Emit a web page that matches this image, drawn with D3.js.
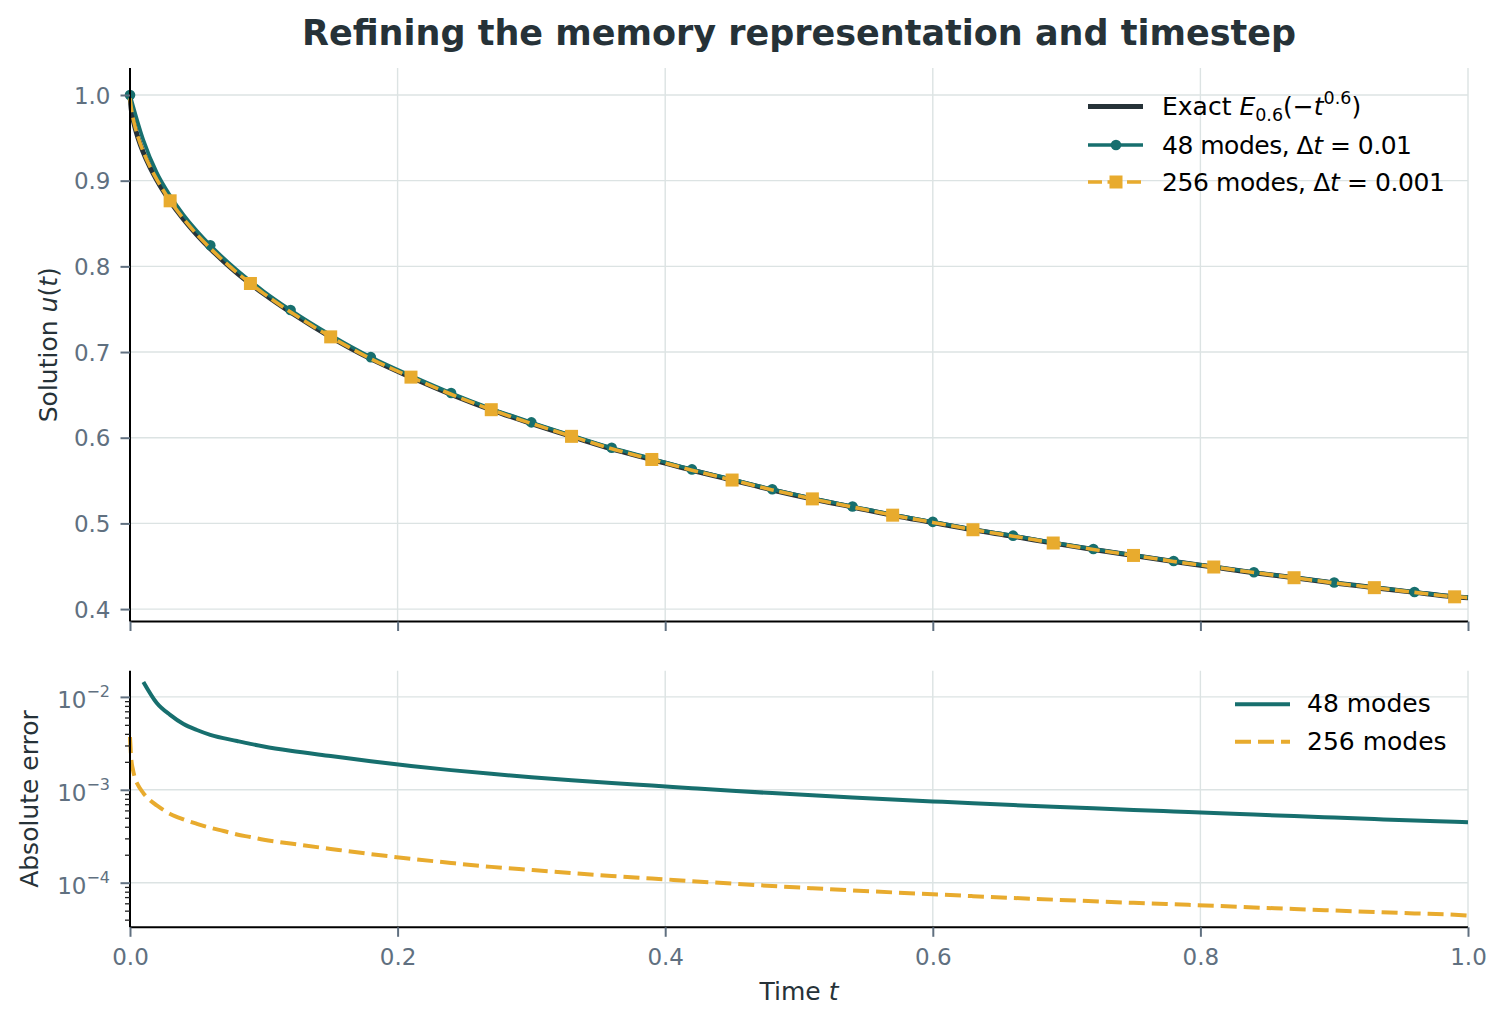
<!DOCTYPE html>
<html><head><meta charset="utf-8">
<script src="https://cdn.jsdelivr.net/npm/d3@7"></script>
<style>
html,body{margin:0;padding:0;background:#fff;}
svg text{font-family:"DejaVu Sans",sans-serif;}
</style></head>
<body><svg id="chart" width="1506" height="1024"></svg>
<script>
// ---------- data ----------
const titleText = "Refining the memory representation and timestep";
const xTicks = [0.0, 0.2, 0.4, 0.6, 0.8, 1.0];
const yTicksTop = [0.4, 0.5, 0.6, 0.7, 0.8, 0.9, 1.0];
const yTicksBottom = [1e-4, 1e-3, 1e-2];

// exact E_0.6(-t^0.6)
const exactT = [0, 0.001, 0.002, 0.004, 0.006, 0.01, 0.015, 0.02, 0.03, 0.04, 0.05, 0.06, 0.07, 0.08, 0.09, 0.10, 0.12, 0.15, 0.18, 0.21, 0.24, 0.27, 0.30, 0.33, 0.36, 0.39, 0.42, 0.45, 0.48, 0.51, 0.54, 0.57, 0.60, 0.63, 0.66, 0.69, 0.72, 0.75, 0.78, 0.81, 0.84, 0.87, 0.90, 0.93, 0.96, 0.99, 1.00];
const exactU = [1.0, 0.9825, 0.9736, 0.9604, 0.9499, 0.9328, 0.9155, 0.9008, 0.8760, 0.8551, 0.8369, 0.8207, 0.8059, 0.7922, 0.7797, 0.7679, 0.7464, 0.7175, 0.6920, 0.6705, 0.6505, 0.6325, 0.6165, 0.6015, 0.5870, 0.5745, 0.5620, 0.5505, 0.5390, 0.5285, 0.5190, 0.5095, 0.5010, 0.4925, 0.4850, 0.4770, 0.4695, 0.4625, 0.4555, 0.4490, 0.4425, 0.4365, 0.4305, 0.4250, 0.4195, 0.4143, 0.4133];

// 48 modes, dt = 0.01
const m48T = [0, 0.01, 0.02, 0.03, 0.04, 0.05, 0.06, 0.08, 0.09, 0.10, 0.12, 0.15, 0.18, 0.21, 0.24, 0.27, 0.30, 0.33, 0.36, 0.39, 0.42, 0.45, 0.48, 0.51, 0.54, 0.57, 0.60, 0.63, 0.66, 0.69, 0.72, 0.75, 0.78, 0.81, 0.84, 0.87, 0.90, 0.93, 0.96, 0.99, 1.00];
const m48U = [1.0, 0.9473, 0.9094, 0.8824, 0.8602, 0.8413, 0.8246, 0.7956, 0.7828, 0.7708, 0.7490, 0.7198, 0.6940, 0.6723, 0.6521, 0.6340, 0.6179, 0.6028, 0.5882, 0.5756, 0.5630, 0.5515, 0.5399, 0.5294, 0.5198, 0.5103, 0.5018, 0.4932, 0.4857, 0.4777, 0.4701, 0.4631, 0.4561, 0.4496, 0.4430, 0.4370, 0.4310, 0.4255, 0.4200, 0.4148, 0.4137];
const m48Err = [null, 0.0145, 0.0086, 0.0064, 0.0051, 0.0044, 0.0039, 0.00335, 0.00312, 0.00293, 0.002636, 0.00231, 0.002028, 0.001808, 0.001628, 0.001484, 0.001365, 0.001267, 0.001183, 0.001111, 0.001041, 0.000977, 0.000921, 0.000871, 0.000826, 0.000786, 0.00075, 0.000716, 0.000685, 0.000657, 0.000631, 0.000607, 0.000585, 0.000564, 0.000542, 0.000521, 0.000502, 0.000484, 0.000467, 0.000452, 0.000447];
const m48MarkerT = [0, 0.06, 0.12, 0.18, 0.24, 0.30, 0.36, 0.42, 0.48, 0.54, 0.60, 0.66, 0.72, 0.78, 0.84, 0.90, 0.96];

// 256 modes, dt = 0.001
const m256T = [0, 0.001, 0.002, 0.004, 0.006, 0.01, 0.015, 0.02, 0.03, 0.04, 0.05, 0.06, 0.07, 0.08, 0.09, 0.10, 0.12, 0.15, 0.18, 0.21, 0.24, 0.27, 0.30, 0.33, 0.36, 0.39, 0.42, 0.45, 0.48, 0.51, 0.54, 0.57, 0.60, 0.63, 0.66, 0.69, 0.72, 0.75, 0.78, 0.81, 0.84, 0.87, 0.90, 0.93, 0.96, 0.99, 1.00];
const m256U = [0.9963, 0.9846, 0.9753, 0.9617, 0.9510, 0.9337, 0.9163, 0.9015, 0.8765, 0.8556, 0.8373, 0.8211, 0.8063, 0.7925, 0.7800, 0.7682, 0.7467, 0.7177, 0.6922, 0.6707, 0.6507, 0.6327, 0.6166, 0.6016, 0.5871, 0.5746, 0.5621, 0.5506, 0.5391, 0.5286, 0.5191, 0.5096, 0.5011, 0.4926, 0.4851, 0.4771, 0.4696, 0.4626, 0.4556, 0.4491, 0.4426, 0.4366, 0.4305, 0.4250, 0.4195, 0.4143, 0.4133];
const m256Err = [0.0037, 0.0021, 0.0017, 0.0013, 0.00112, 0.00092, 0.00077, 0.00068, 0.00055, 0.00048, 0.00043, 0.00039, 0.00036, 0.00033, 0.00031, 0.00029, 0.000264, 0.000231, 0.000203, 0.000181, 0.000163, 0.000148, 0.000137, 0.000127, 0.000118, 0.000111, 0.000104, 0.0000977, 0.0000921, 0.0000871, 0.0000826, 0.0000786, 0.000075, 0.0000716, 0.0000685, 0.0000657, 0.0000631, 0.0000607, 0.0000585, 0.0000564, 0.0000542, 0.0000521, 0.0000502, 0.0000484, 0.0000467, 0.0000452, 0.0000442];
const m256MarkerT = [0.03, 0.09, 0.15, 0.21, 0.27, 0.33, 0.39, 0.45, 0.51, 0.57, 0.63, 0.69, 0.75, 0.81, 0.87, 0.93, 0.99];

// ---------- style ----------
const C = {dark:"#263238", teal:"#176f6e", gold:"#e8ab2e", grid:"#dce3e3", tick:"#607080", spine:"#000"};
const FS = {title: 35, tick: 23, label: 25, legend: 25};

const svg = d3.select("#chart");
const X0 = 130, X1 = 1468;
const topY0 = 68, topY1 = 621.5;
const botY0 = 670.7, botY1 = 927.3;

const x = d3.scaleLinear().domain([0, 1]).range([X0, X1]);
const yTop = d3.scaleLinear().domain([0.3855, 1.0315]).range([topY1, topY0]);
const yBot = d3.scaleLog().domain([3.31e-5, 0.01914]).range([botY1, botY0]);

// title
svg.append("text").attr("x", (X0 + X1) / 2).attr("y", 45).attr("text-anchor", "middle")
  .attr("font-size", FS.title).attr("font-weight", "bold").attr("fill", C.dark).text(titleText);

function grid(g, yScale, yTicks, y0, y1) {
  g.selectAll(".gx").data(xTicks).join("line")
    .attr("x1", d => x(d)).attr("x2", d => x(d)).attr("y1", y0).attr("y2", y1)
    .attr("stroke", C.grid).attr("stroke-width", 1.4);
  g.selectAll(".gy").data(yTicks).join("line").attr("class", "gy")
    .attr("x1", X0).attr("x2", X1).attr("y1", d => yScale(d)).attr("y2", d => yScale(d))
    .attr("stroke", C.grid).attr("stroke-width", 1.4);
}

// ---------- top panel ----------
const gTop = svg.append("g");
grid(gTop.append("g"), yTop, yTicksTop, topY0, topY1);

const lineTop = d3.line().x(d => x(d[0])).y(d => yTop(d[1])).curve(d3.curveMonotoneX);
gTop.append("path").datum(d3.zip(exactT, exactU)).attr("d", lineTop)
  .attr("fill", "none").attr("stroke", C.dark).attr("stroke-width", 5);
const d48 = d3.zip(m48T, m48U);
gTop.append("path").datum(d48).attr("d", lineTop)
  .attr("fill", "none").attr("stroke", C.teal).attr("stroke-width", 3.6);
gTop.selectAll(".m48").data(d48.filter(d => m48MarkerT.some(m => Math.abs(m - d[0]) < 1e-9))).join("circle")
  .attr("cx", d => x(d[0])).attr("cy", d => yTop(d[1])).attr("r", 5.3).attr("fill", C.teal);
const d256 = d3.zip(m256T, m256U);
gTop.append("path").datum(d256).attr("d", lineTop)
  .attr("fill", "none").attr("stroke", C.gold).attr("stroke-width", 3.6).attr("stroke-dasharray", "14,5.5");
gTop.selectAll(".m256").data(d256.filter(d => m256MarkerT.some(m => Math.abs(m - d[0]) < 1e-9))).join("rect")
  .attr("x", d => x(d[0]) - 6.5).attr("y", d => yTop(d[1]) - 6.5).attr("width", 13).attr("height", 13).attr("fill", C.gold);

// axes top
const axLeftTop = svg.append("g").attr("transform", `translate(${X0},0)`)
  .call(d3.axisLeft(yTop).tickValues(yTicksTop).tickFormat(d3.format(".1f")).tickSize(9.5).tickPadding(10));
const axBotTop = svg.append("g").attr("transform", `translate(0,${topY1})`)
  .call(d3.axisBottom(x).tickValues(xTicks).tickFormat("").tickSize(9.5));

// ---------- bottom panel ----------
const gBot = svg.append("g");
grid(gBot.append("g"), yBot, yTicksBottom, botY0, botY1);
const lineBot = d3.line().defined(d => d[1] != null).x(d => x(d[0])).y(d => yBot(d[1])).curve(d3.curveMonotoneX);
gBot.append("path").datum(d3.zip(m48T, m48Err)).attr("d", lineBot)
  .attr("fill", "none").attr("stroke", C.teal).attr("stroke-width", 4);
gBot.append("path").datum(d3.zip(m256T, m256Err)).attr("d", lineBot)
  .attr("fill", "none").attr("stroke", C.gold).attr("stroke-width", 4).attr("stroke-dasharray", "16,7");

const axLeftBot = svg.append("g").attr("transform", `translate(${X0},0)`)
  .call(d3.axisLeft(yBot).tickValues(yTicksBottom).tickFormat("").tickSize(9.5));
// minor ticks
const minorVals = [];
[1e-5, 1e-4, 1e-3, 1e-2].forEach(b => { for (let k = 2; k <= 9; k++) { const v = b * k; if (v > 3.31e-5 && v < 0.01914) minorVals.push(v); } });
svg.append("g").attr("transform", `translate(${X0},0)`)
  .call(d3.axisLeft(yBot).tickValues(minorVals).tickFormat("").tickSize(5))
  .call(g => g.select(".domain").remove())
  .call(g => g.selectAll("line").attr("stroke", "#222").attr("stroke-width", 1.3));
// log tick labels
const logLab = svg.append("g");
yTicksBottom.forEach(v => {
  const t = logLab.append("text").attr("x", 110).attr("y", yBot(v) + 11.5).attr("text-anchor", "end")
    .attr("font-size", FS.tick).attr("fill", C.tick);
  t.append("tspan").text("10");
  t.append("tspan").attr("dy", -11.5).attr("font-size", 16).text("\u2212" + Math.round(-Math.log10(v)));
});

const axBotBot = svg.append("g").attr("transform", `translate(0,${botY1})`)
  .call(d3.axisBottom(x).tickValues(xTicks).tickFormat(d3.format(".1f")).tickSize(9.5).tickPadding(12));

// axis styling
[axLeftTop, axBotTop, axLeftBot, axBotBot].forEach(a => {
  a.select(".domain").attr("stroke", C.spine).attr("stroke-width", 2);
  a.selectAll(".tick line").attr("stroke", C.tick).attr("stroke-width", 2);
  a.selectAll(".tick text").attr("font-size", FS.tick).attr("fill", C.tick).attr("font-family", "DejaVu Sans");
});
axLeftTop.selectAll(".tick text").attr("dy", "0.36em");
axBotBot.selectAll(".tick text").attr("dy", "0.71em");
axLeftTop.select(".domain").attr("d", `M0,${topY0}V${topY1}`);
axBotTop.select(".domain").attr("d", `M${X0},0H${X1}`);
axLeftBot.select(".domain").attr("d", `M0,${botY0}V${botY1}`);
axBotBot.select(".domain").attr("d", `M${X0},0H${X1}`);

// axis labels
const yl1 = svg.append("text").attr("transform", `translate(57,${(topY0 + topY1) / 2}) rotate(-90)`)
  .attr("text-anchor", "middle").attr("font-size", FS.label).attr("fill", C.dark);
yl1.append("tspan").text("Solution ");
yl1.append("tspan").attr("font-style", "italic").text("u");
yl1.append("tspan").text("(");
yl1.append("tspan").attr("font-style", "italic").text("t");
yl1.append("tspan").text(")");
svg.append("text").attr("transform", `translate(38,${(botY0 + botY1) / 2}) rotate(-90)`)
  .attr("text-anchor", "middle").attr("font-size", FS.label).attr("fill", C.dark).text("Absolute error");
const xl = svg.append("text").attr("x", (X0 + X1) / 2).attr("y", 1000).attr("text-anchor", "middle")
  .attr("font-size", FS.label).attr("fill", C.dark);
xl.append("tspan").text("Time ");
xl.append("tspan").attr("font-style", "italic").text("t");

// ---------- legends ----------
const legTop = svg.append("g");
const lt = [
  {y: 106.5, color: C.dark, w: 5, dash: null, marker: null},
  {y: 145, color: C.teal, w: 3.6, dash: null, marker: "circle"},
  {y: 182, color: C.gold, w: 3.6, dash: "14,5.5", marker: "square"}
];
lt.forEach(d => {
  legTop.append("line").attr("x1", 1088).attr("x2", 1143).attr("y1", d.y).attr("y2", d.y)
    .attr("stroke", d.color).attr("stroke-width", d.w).attr("stroke-dasharray", d.dash);
  if (d.marker === "circle") legTop.append("circle").attr("cx", 1116).attr("cy", d.y).attr("r", 5.3).attr("fill", d.color);
  if (d.marker === "square") legTop.append("rect").attr("x", 1109.5).attr("y", d.y - 6.5).attr("width", 13).attr("height", 13).attr("fill", d.color);
});
function legText(g, y) { return g.append("text").attr("x", 1162).attr("y", y + 8.5).attr("font-size", FS.legend).attr("fill", "#000"); }
let t1 = legText(legTop, lt[0].y);
t1.append("tspan").text("Exact ");
t1.append("tspan").attr("font-style", "italic").text("E");
t1.append("tspan").attr("dy", 6).attr("font-size", 17.5).text("0.6");
t1.append("tspan").attr("dy", -6).text("(\u2212");
t1.append("tspan").attr("font-style", "italic").text("t");
t1.append("tspan").attr("dy", -11).attr("font-size", 17.5).text("0.6");
t1.append("tspan").attr("dy", 11).text(")");
let t2 = legText(legTop, lt[1].y).attr("textLength", 250).attr("lengthAdjust", "spacing");
t2.append("tspan").text("48 modes, \u0394");
t2.append("tspan").attr("font-style", "italic").text("t");
t2.append("tspan").text(" = 0.01");
let t3 = legText(legTop, lt[2].y).attr("textLength", 283).attr("lengthAdjust", "spacing");
t3.append("tspan").text("256 modes, \u0394");
t3.append("tspan").attr("font-style", "italic").text("t");
t3.append("tspan").text(" = 0.001");

const legBot = svg.append("g");
[{y: 704.3, color: C.teal, dash: null, label: "48 modes"}, {y: 741.7, color: C.gold, dash: "16,7", label: "256 modes"}].forEach(d => {
  legBot.append("line").attr("x1", 1235).attr("x2", 1290).attr("y1", d.y).attr("y2", d.y)
    .attr("stroke", d.color).attr("stroke-width", 4).attr("stroke-dasharray", d.dash);
  legBot.append("text").attr("x", 1307).attr("y", d.y + 8).attr("font-size", FS.legend).attr("fill", "#000").text(d.label);
});
</script>
</body></html>
